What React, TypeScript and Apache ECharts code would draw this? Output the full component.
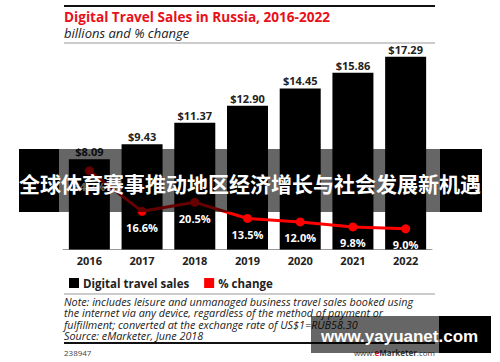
import React, { useEffect, useRef } from "react";
import * as echarts from "echarts";

const years = ["2016", "2017", "2018", "2019", "2020", "2021", "2022"];
const salesBillions = [8.09, 9.43, 11.37, 12.9, 14.45, 15.86, 17.29];
const pctChange = [34.2, 16.6, 20.5, 13.5, 12.0, 9.8, 9.0];

const titleText = "Digital Travel Sales in Russia, 2016-2022";
const subtitleText = "billions and % change";
const noteLines = [
  "Note: includes leisure and unmanaged business travel sales booked using",
  "the internet via any device, regardless of the method of payment or",
  "fulfillment; converted at the exchange rate of US$1=RUB58.30",
  "Source: eMarketer, June 2018",
];
const chartId = "238947";
const bannerText = "全球体育赛事推动地区经济增长与社会发展新机遇";
const watermarkText = "www.yayuanet.com";

const FONT = "'Open Sans', 'Noto Sans', sans-serif";

export default function App() {
  const ref = useRef<HTMLDivElement>(null);

  useEffect(() => {
    document.body.style.margin = "0";
    if (!ref.current) return;
    const chart = echarts.init(ref.current, null, { renderer: "svg" });

    chart.setOption({
      animation: false,
      backgroundColor: "#fff",
      textStyle: { fontFamily: FONT },
      grid: { left: 63, right: 68, top: 26.5, bottom: 112.5 },
      legend: {
        left: 64,
        top: 272,
        icon: "rect",
        itemWidth: 10,
        itemHeight: 10,
        itemGap: 15,
        textStyle: { fontSize: 11.5, fontWeight: "bold", color: "#222", fontFamily: FONT, padding: [0, 0, 0, -1] },
        data: [
          { name: "Digital travel sales", itemStyle: { color: "#000" } },
          { name: "% change", itemStyle: { color: "#ff0000" } },
        ],
      },
      xAxis: {
        type: "category",
        data: years,
        axisLine: { lineStyle: { color: "#999", width: 1 } },
        axisTick: { show: false },
        axisLabel: { fontSize: 11, fontWeight: "bold", color: "#222", margin: 5, fontFamily: FONT },
      },
      yAxis: [
        { type: "value", min: 0, max: 20, show: false, splitLine: { show: false } },
        { type: "value", min: 0, max: 96.96, show: false, splitLine: { show: false } },
      ],
      series: [
        {
          name: "Digital travel sales",
          type: "bar",
          data: salesBillions,
          barWidth: 41,
          itemStyle: { color: "#000" },
          label: {
            show: true,
            position: "top",
            distance: 2,
            fontSize: 11,
            fontWeight: "bold",
            color: "#222",
            fontFamily: FONT,
            formatter: (p: any) => "$" + Number(p.value).toFixed(2),
          },
          z: 2,
        },
        {
          name: "% change",
          type: "line",
          yAxisIndex: 1,
          data: pctChange,
          symbol: "circle",
          symbolSize: 9,
          lineStyle: { color: "#ff0000", width: 3 },
          itemStyle: { color: "#ff0000" },
          label: {
            show: true,
            position: "bottom",
            distance: 6,
            fontSize: 11,
            fontWeight: "bold",
            color: "#fff",
            fontFamily: FONT,
            formatter: (p: any) => Number(p.value).toFixed(1) + "%",
          },
          z: 3,
        },
      ],
      graphic: [
        { type: "rect", shape: { x: 64, y: 5, width: 371, height: 2 }, style: { fill: "#111" } },
        {
          type: "text",
          x: 64,
          y: 16,
          style: { text: titleText, fill: "#e8101a", font: `bold 13.6px ${FONT}`, textVerticalAlign: "middle" },
        },
        {
          type: "text",
          x: 64,
          y: 33,
          style: { text: subtitleText, fill: "#222", font: `italic 13px ${FONT}`, textVerticalAlign: "middle" },
        },
        { type: "rect", shape: { x: 64, y: 42.5, width: 371, height: 1 }, style: { fill: "#999" } },
        { type: "rect", shape: { x: 64, y: 293.5, width: 371, height: 1 }, style: { fill: "#999" } },
        {
          type: "text",
          x: 64,
          y: 296,
          style: {
            text: noteLines.join("\n"),
            fill: "#222",
            font: `italic 10.8px ${FONT}`,
            lineHeight: 11.2,
            textVerticalAlign: "top",
          },
        },
        { type: "rect", shape: { x: 64, y: 342, width: 371, height: 2 }, style: { fill: "#111" } },
        {
          type: "text",
          left: 64,
          top: 348,
          style: { text: chartId, fill: "#444", font: `8px ${FONT}` },
        },
        {
          type: "text",
          right: 65,
          top: 348,
          style: {
            text: "{a|www.}{b|e}{c|Marketer}{a|.com}",
            rich: {
              a: { fill: "#444", fontSize: 8, fontFamily: FONT },
              b: { fill: "#e8101a", fontSize: 8, fontWeight: "bold", fontFamily: FONT },
              c: { fill: "#444", fontSize: 8, fontWeight: "bold", fontFamily: FONT },
            },
          },
        },
        // overlay banner
        { type: "rect", z: 100, shape: { x: 19, y: 149, width: 40, height: 63 }, style: { fill: "#000" } },
        { type: "rect", z: 100, shape: { x: 59, y: 149, width: 381, height: 63 }, style: { fill: "rgba(0,0,0,0.6)" } },
        { type: "rect", z: 100, shape: { x: 440, y: 149, width: 42, height: 63 }, style: { fill: "#000" } },
        {
          type: "text",
          z: 101,
          x: 250,
          y: 183,
          style: {
            text: bannerText,
            fill: "#fff",
            font: `bold 21px 'Noto Sans CJK SC', sans-serif`,
            textAlign: "center",
            textVerticalAlign: "middle",
          },
        },
        // watermark
        { type: "rect", z: 100, shape: { x: 311, y: 316, width: 128, height: 37 }, style: { fill: "rgba(0,0,0,0.6)" } },
        { type: "rect", z: 100, shape: { x: 439, y: 316, width: 52, height: 37 }, style: { fill: "#000" } },
        {
          type: "text",
          z: 101,
          x: 321,
          y: 336,
          style: {
            text: watermarkText,
            fill: "#fff",
            font: `bold 17px 'Liberation Sans', Arial, sans-serif`,
            textAlign: "left",
            textVerticalAlign: "middle",
          },
        },
      ],
    });

    return () => chart.dispose();
  }, []);

  return <div ref={ref} style={{ width: 500, height: 362 }} />;
}
